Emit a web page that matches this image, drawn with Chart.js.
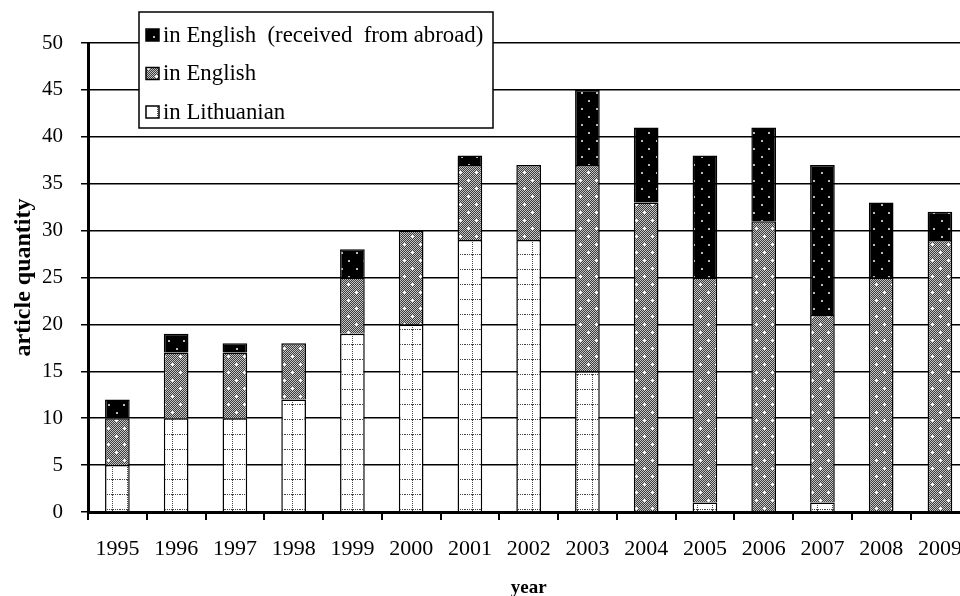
<!DOCTYPE html>
<html>
<head>
<meta charset="utf-8">
<script src="https://cdn.jsdelivr.net/npm/chart.js@4.4.1/dist/chart.umd.min.js"></script>
<style>
  html, body { margin: 0; padding: 0; background: #fff; overflow: hidden; }
  #wrap { position: relative; width: 978px; height: 596px; }
</style>
</head>
<body>
<div id="wrap"><canvas id="articleChart"></canvas></div>
<script>
const years = ['1995', '1996', '1997', '1998', '1999', '2000', '2001', '2002',
               '2003', '2004', '2005', '2006', '2007', '2008', '2009'];
const inLithuanian = [5, 10, 10, 12, 19, 20, 29, 29, 15, 0, 1, 0, 1, 0, 0];
const inEnglish    = [5, 7, 7, 6, 6, 10, 8, 8, 22, 33, 24, 31, 20, 25, 29];
const fromAbroad   = [2, 2, 1, 0, 3, 0, 1, 0, 8, 8, 13, 10, 16, 8, 3];

const serif = '"Liberation Serif", "Times New Roman", serif';

// small tiles used as fill patterns
function makePattern(kind) {
    const c = document.createElement('canvas');
    const g = c.getContext('2d');
    if (kind === 'lit') {
        c.width = 15; c.height = 15;
        g.fillStyle = '#fff';
        g.fillRect(0, 0, 15, 15);
        g.fillStyle = '#444';
        for (let i = 0; i < 15; i += 2) {
            g.fillRect(i, 14, 1, 1);
            g.fillRect(7, i, 1, 1);
        }
    } else if (kind === 'eng') {
        c.width = 16; c.height = 16;
        for (let y = 0; y < 16; y++) {
            for (let x = 0; x < 16; x++) {
                g.fillStyle = (x + y) % 2 ? '#3c3c3c' : '#c4c4c4';
                g.fillRect(x, y, 1, 1);
            }
        }
        g.fillStyle = '#fff';
        [[4, 4], [12, 12]].forEach(function(p) {
            g.fillRect(p[0] - 1, p[1], 3, 1);
            g.fillRect(p[0], p[1] - 1, 1, 3);
        });
    } else {
        c.width = 15; c.height = 16;
        g.fillStyle = '#000';
        g.fillRect(0, 0, 15, 16);
        g.fillStyle = '#bbb';
        g.fillRect(3, 4, 2, 2);
        g.fillRect(11, 12, 2, 2);
    }
    return g.createPattern(c, 'repeat');
}

const patLit = makePattern('lit');
const patEng = makePattern('eng');
const patAbr = makePattern('abr');

const boxLegend = {
    id: 'boxLegend',
    afterDraw(chart) {
        const ctx = chart.ctx;
        const x = 139, y = 12, w = 354, h = 116;
        ctx.save();
        ctx.fillStyle = '#fff';
        ctx.fillRect(x, y, w, h);
        ctx.strokeStyle = '#000';
        ctx.lineWidth = 1.5;
        ctx.strokeRect(x, y, w, h);
        const items = chart.data.datasets.slice().reverse();
        ctx.font = '22.8px ' + serif;
        ctx.textBaseline = 'middle';
        items.forEach(function(ds, i) {
            const cy = 35 + i * 38.5;
            ctx.fillStyle = ds.backgroundColor;
            ctx.fillRect(146, cy - 6, 13, 12);
            ctx.lineWidth = 1.5;
            ctx.strokeRect(146, cy - 6, 13, 12);
            ctx.fillStyle = '#000';
            ctx.fillText(ds.label, 163, cy + 1);
        });
        ctx.restore();
    }
};

new Chart(document.getElementById('articleChart'), {
    type: 'bar',
    data: {
        labels: years,
        datasets: [
            { label: 'in Lithuanian', data: inLithuanian, backgroundColor: patLit },
            { label: 'in English', data: inEnglish, backgroundColor: patEng },
            { label: 'in English  (received  from abroad)', data: fromAbroad, backgroundColor: patAbr }
        ]
    },
    options: {
        responsive: true,
        maintainAspectRatio: false,
        animation: false,
        devicePixelRatio: 1,
        layout: { padding: { top: 43, right: 2, left: 0, bottom: 0 } },
        datasets: {
            bar: {
                borderColor: '#000',
                borderWidth: 1.5,
                barPercentage: 0.42,
                categoryPercentage: 1
            }
        },
        scales: {
            x: {
                stacked: true,
                afterFit: function(scale) { scale.height = 84; },
                border: { color: '#000', width: 3 },
                grid: {
                    offset: true,
                    drawOnChartArea: false,
                    drawTicks: true,
                    tickLength: 8,
                    color: '#000',
                    lineWidth: 2
                },
                ticks: {
                    color: '#000',
                    padding: 16,
                    maxRotation: 0,
                    autoSkip: false,
                    font: { family: serif, size: 22 }
                },
                title: {
                    display: true,
                    text: 'year',
                    color: '#000',
                    padding: { top: 0, bottom: -3 },
                    font: { family: serif, size: 19, weight: 'bold' }
                }
            },
            y: {
                stacked: true,
                min: 0,
                max: 50,
                afterFit: function(scale) { scale.width = 88; },
                border: { color: '#000', width: 3 },
                grid: {
                    color: '#000',
                    lineWidth: 1.5,
                    tickLength: 7
                },
                ticks: {
                    stepSize: 5,
                    color: '#000',
                    padding: 18,
                    font: { family: serif, size: 21 }
                },
                title: {
                    display: true,
                    text: 'article quantity',
                    color: '#000',
                    padding: { top: 9, bottom: 0 },
                    font: { family: serif, size: 24, weight: 'bold' }
                }
            }
        },
        plugins: {
            legend: { display: false },
            tooltip: { enabled: false }
        }
    },
    plugins: [boxLegend]
});
</script>
</body>
</html>
